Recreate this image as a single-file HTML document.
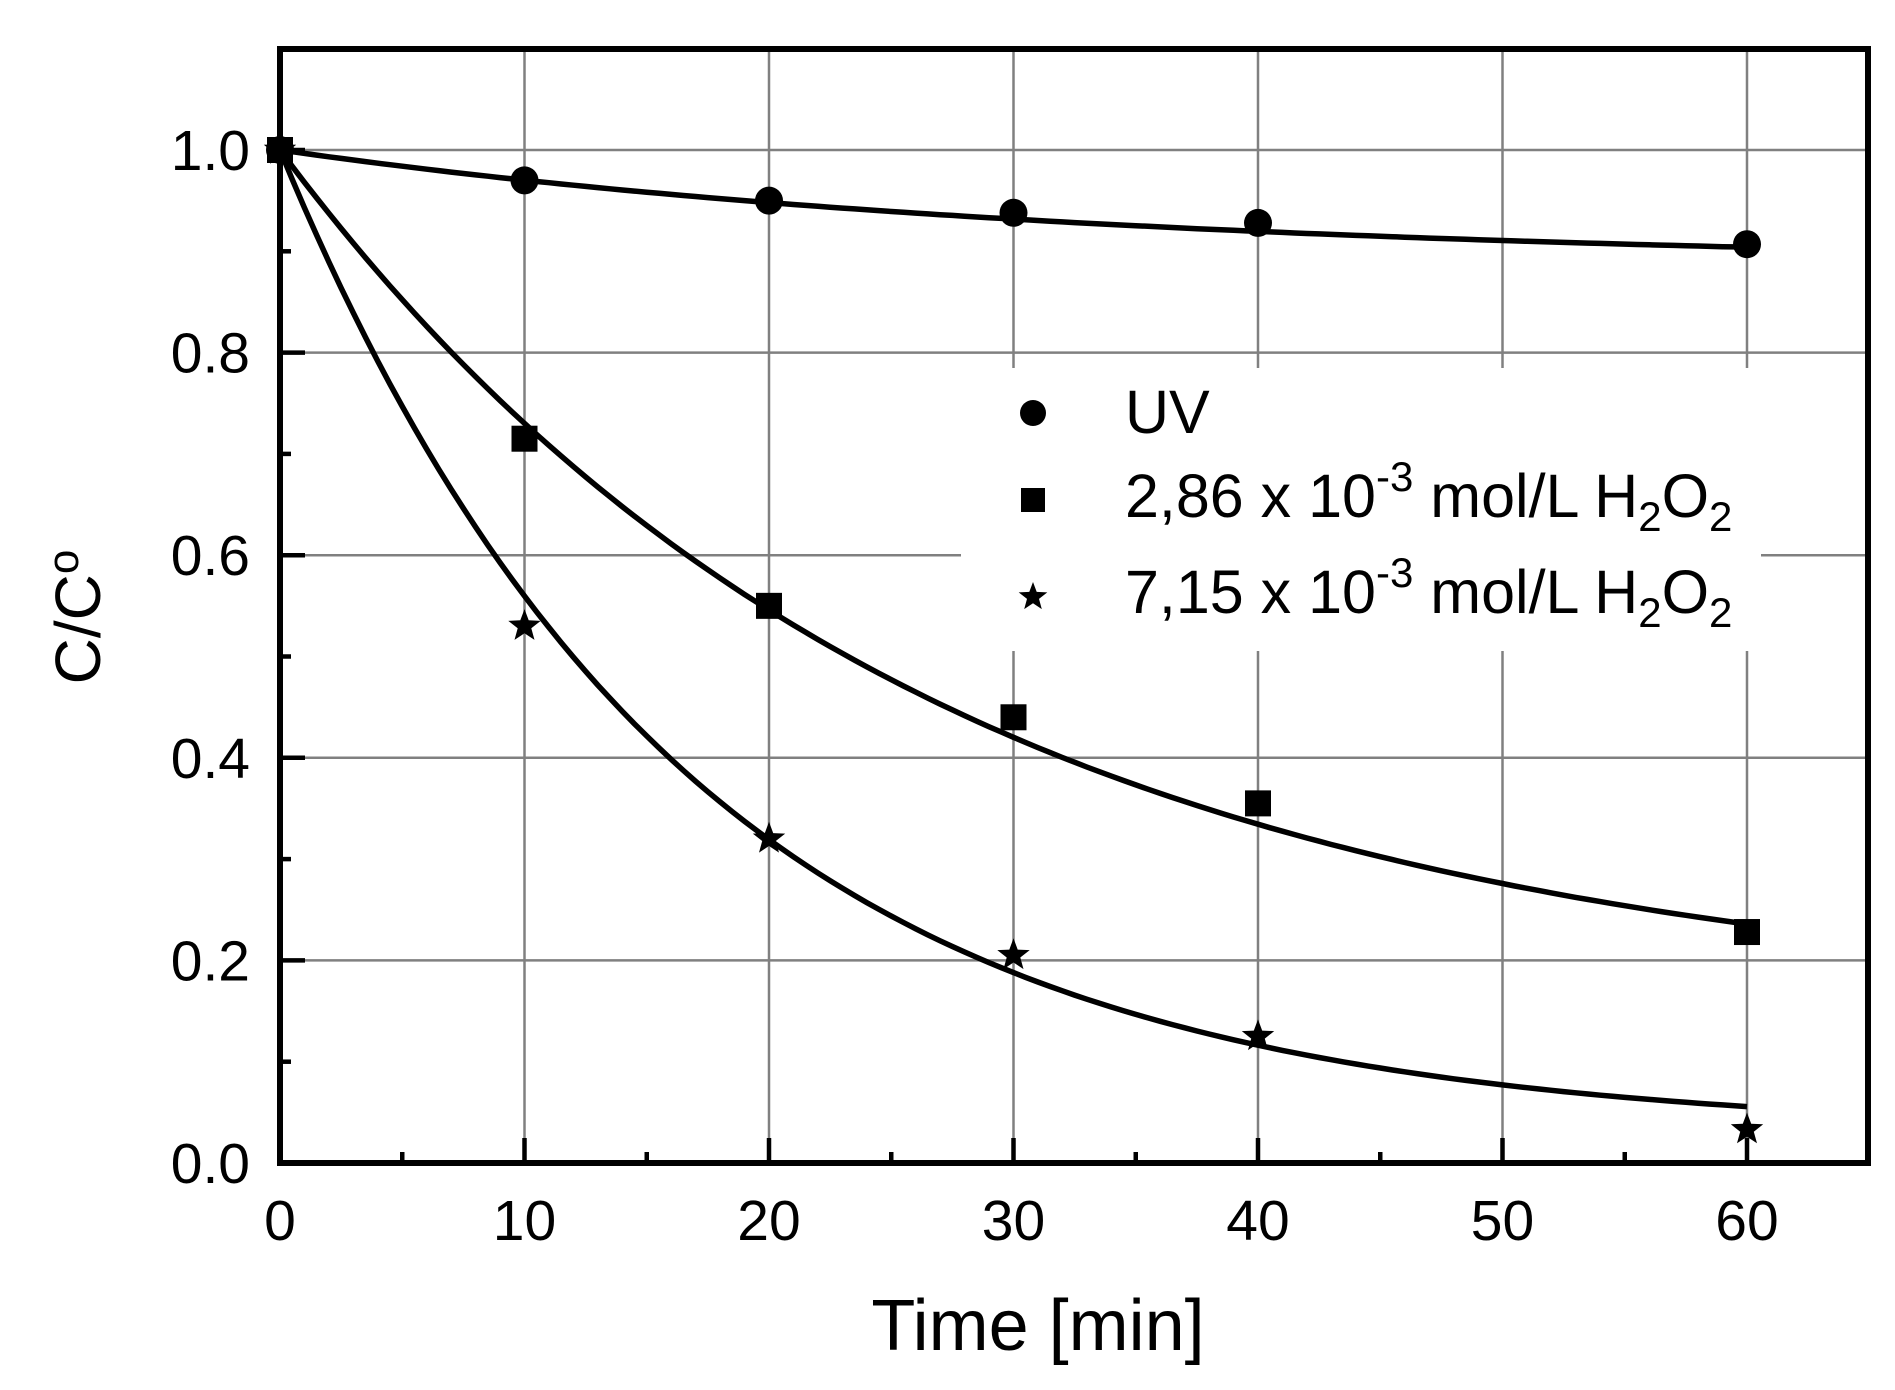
<!DOCTYPE html>
<html><head><meta charset="utf-8"><style>
html,body{margin:0;padding:0;background:#fff;}
svg{display:block;}
text{font-family:"Liberation Sans",Arial,sans-serif;fill:#000;}
</style></head><body>
<svg id="s" width="1895" height="1390" viewBox="0 0 1895 1390" xmlns="http://www.w3.org/2000/svg">
<rect width="1895" height="1390" fill="#fff"/>
<g id="grid" stroke="#808080" stroke-width="2.5"></g>
<rect x="961" y="368" width="800" height="283" fill="#fff"/>
<g id="ticks" stroke="#000" stroke-width="4.5"></g>
<g id="curves" fill="none" stroke="#000" stroke-width="5.5"></g>
<g id="marks" fill="#000"></g>
<rect x="280" y="49" width="1588" height="1114" fill="none" stroke="#000" stroke-width="6"/>
<g id="labels" font-size="57"></g>
<text x="1038" y="1350" font-size="72" text-anchor="middle">Time [min]</text>
<text transform="translate(100,617) rotate(-90)" font-size="64" text-anchor="middle">C/C<tspan dy="-22" font-size="44">o</tspan></text>
<g font-size="61">
<circle cx="1033" cy="413" r="13"/>
<text x="1125" y="433">UV</text>
<rect x="1021" y="488" width="24" height="24"/>
<text x="1125" y="517">2,86 x 10<tspan dy="-26" font-size="42">-3</tspan><tspan dy="26"> mol/L H</tspan><tspan dy="14" font-size="42">2</tspan><tspan dy="-14">O</tspan><tspan dy="14" font-size="42">2</tspan></text>
<text x="1125" y="613">7,15 x 10<tspan dy="-26" font-size="42">-3</tspan><tspan dy="26"> mol/L H</tspan><tspan dy="14" font-size="42">2</tspan><tspan dy="-14">O</tspan><tspan dy="14" font-size="42">2</tspan></text>
</g>
<g id="legstar"></g>
</svg>
<script>
var NS="http://www.w3.org/2000/svg";
function X(t){return 280+t*24.45;}
function Y(v){return 1163-v*1013;}
function el(p,n,a){var e=document.createElementNS(NS,n);for(var k in a)e.setAttribute(k,a[k]);document.getElementById(p).appendChild(e);return e;}
for(var t=10;t<=60;t+=10)el("grid","line",{x1:X(t),y1:49,x2:X(t),y2:1163});
for(var v=0.2;v<=1.01;v+=0.2)el("grid","line",{x1:280,y1:Y(v),x2:1868,y2:Y(v)});
for(var t=5;t<=60;t+=5){var L=(t%10==0)?25:11;el("ticks","line",{x1:X(t),y1:1163,x2:X(t),y2:1163-L});}
for(var i=1;i<=10;i++){var v=i*0.1;var L=(i%2==0)?25:11;el("ticks","line",{x1:280,y1:Y(v),x2:280+L,y2:Y(v)});}
for(var t=0;t<=60;t+=10){var e=el("labels","text",{x:X(t),y:1240,"text-anchor":"middle"});e.textContent=t;}
for(var i=0;i<=5;i++){var v=i*0.2;var e=el("labels","text",{x:250,y:Y(v)+20,"text-anchor":"end"});e.textContent=v.toFixed(1);}
function curve(a,k){var d="";for(var t=0;t<=60;t+=0.5){var v=a+(1-a)*Math.exp(-k*t);d+=(t==0?"M":"L")+X(t).toFixed(1)+","+Y(v).toFixed(1);}el("curves","path",{d:d});}
curve(0.885,0.03);curve(0.15,0.0382);curve(0.03,0.0605);
function star(p,cx,cy,R){var r=R*0.42,d="";for(var i=0;i<10;i++){var a=-Math.PI/2+i*Math.PI/5,rr=i%2?r:R;d+=(i?"L":"M")+(cx+rr*Math.cos(a)).toFixed(1)+","+(cy+rr*Math.sin(a)).toFixed(1);}el(p,"path",{d:d+"Z",fill:"#000"});}
var uv=[[0,1],[10,0.97],[20,0.95],[30,0.938],[40,0.928],[60,0.907]];
var sq=[[0,1],[10,0.715],[20,0.55],[30,0.44],[40,0.355],[60,0.228]];
var st=[[0,1],[10,0.53],[20,0.32],[30,0.205],[40,0.125],[60,0.033]];
uv.forEach(function(p){el("marks","circle",{cx:X(p[0]),cy:Y(p[1]),r:14});});
sq.forEach(function(p){el("marks","rect",{x:X(p[0])-13,y:Y(p[1])-13,width:26,height:26});});
st.forEach(function(p){star("marks",X(p[0]),Y(p[1]),17);});
star("legstar",1033,597,15);
</script>
</body></html>
